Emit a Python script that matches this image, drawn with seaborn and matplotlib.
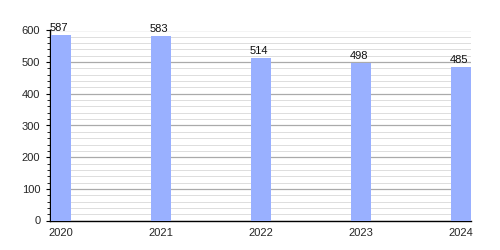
import matplotlib
matplotlib.use("Agg")
import matplotlib.pyplot as plt
import seaborn as sns
import pandas as pd
from matplotlib.ticker import MultipleLocator

years = ["2020", "2021", "2022", "2023", "2024"]
values = [587, 583, 514, 498, 485]

sns.set_theme(style="white")
plt.rcParams['font.family'] = ['Liberation Sans', 'DejaVu Sans']

df = pd.DataFrame({"year": years, "value": values})

fig = plt.figure(figsize=(5, 2.5), dpi=100)
ax = fig.add_axes([0.1, 0.118, 0.842, 0.76])
sns.barplot(data=df, x="year", y="value", color="#99b0ff", saturation=1,
            width=0.2, ax=ax, zorder=3, linewidth=0, edgecolor="none")
ax.set_xlim(-0.11, 4.1)
ax.set_ylim(0, 600)
ax.yaxis.set_major_locator(MultipleLocator(100))
ax.yaxis.set_minor_locator(MultipleLocator(20))
ax.grid(which="major", axis="y", color="#aaaaaa", linewidth=0.9, zorder=0)
ax.grid(which="minor", axis="y", color="#dddddd", linewidth=0.7, zorder=0)
ax.set_axisbelow(True)
for s in ["top", "right"]:
    ax.spines[s].set_visible(False)
for s in ["left", "bottom"]:
    ax.spines[s].set_color("black")
    ax.spines[s].set_linewidth(1.0)
ax.tick_params(axis="y", which="major", left=True, length=3, width=0.8, color="black", labelsize=8, pad=4)
ax.tick_params(axis="y", which="minor", left=True, length=2, width=0.6, color="black")
ax.tick_params(axis="x", bottom=False, labelsize=8, pad=-0.5)
ax.set_xlabel("")
ax.set_ylabel("")
for i, v in enumerate(values):
    ax.text(i - 0.02, v + 6, str(v), ha="center", va="bottom", fontsize=8, color="#111111")
fig.savefig("out.png", dpi=100, facecolor="white")
